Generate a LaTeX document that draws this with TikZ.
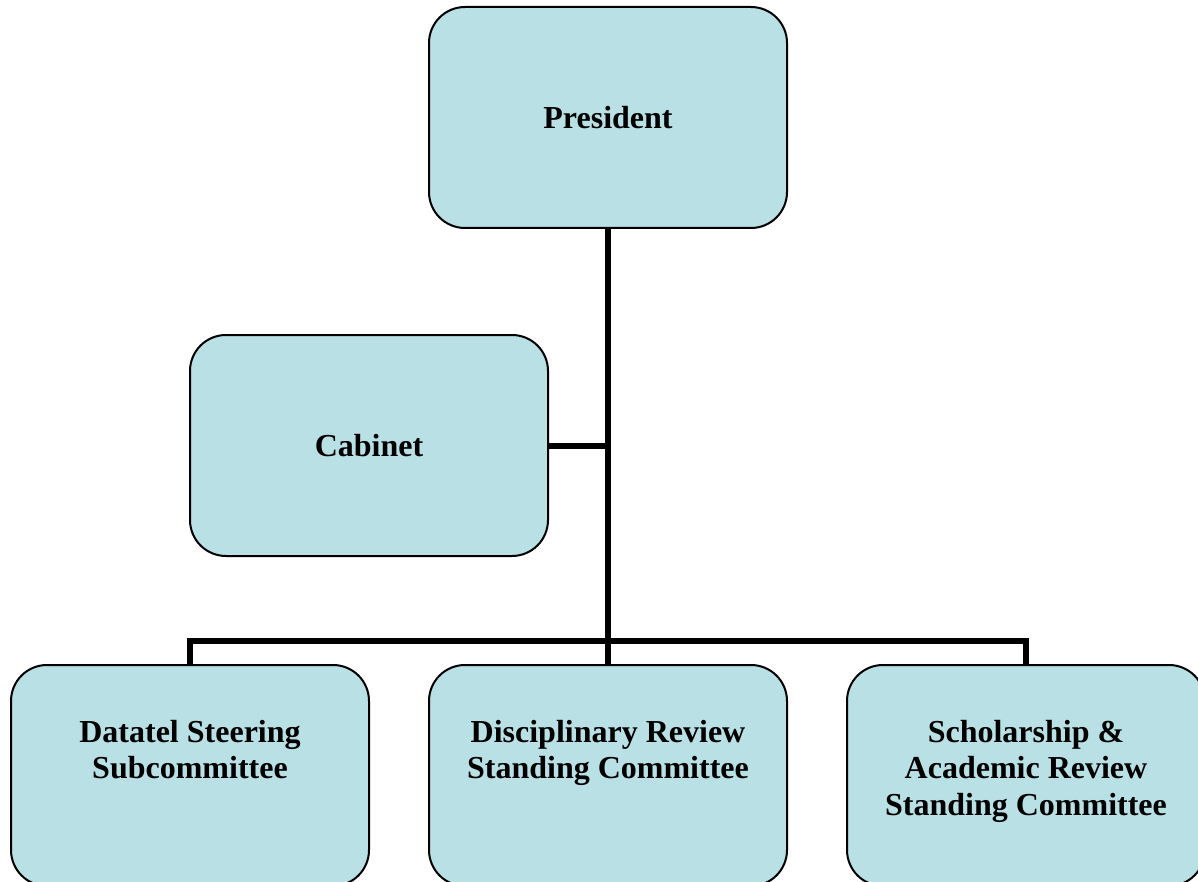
\documentclass[tikz,border=0pt]{standalone}
\usepackage{fontspec}
\setmainfont{Liberation Serif}
\definecolor{boxblue}{RGB}{185,224,228}
\newcommand{\boxfont}{\fontsize{32}{36.5}\selectfont\bfseries}
\tikzset{
    box/.style={draw=black, line width=2pt, fill=boxblue, rounded corners=36pt,
        minimum width=358pt, minimum height=221pt, inner sep=0pt,
        font=\boxfont, align=center},
    toptext/.style={label={[anchor=north, yshift=-56pt, inner sep=0pt,
        font=\boxfont, align=center]north:{#1}}},
    lien/.style={line width=6pt},
}

\begin{document}
\begin{tikzpicture}[x=1pt,y=-1pt]
    % cadre
    \useasboundingbox (0,0) rectangle (1198,882);
    \clip (0,0) rectangle (1198,882);

    % boites
    \node[box] (pres) at (608,117.5) {President};
    \node[box] (cab) at (369,445.5) {Cabinet};
    \node[box, toptext={Datatel Steering\\Subcommittee}] (data) at (190,775.5) {};
    \node[box, toptext={Disciplinary Review\\Standing Committee}] (disc) at (608,775.5) {};
    \node[box, toptext={Scholarship \&\\Academic Review\\Standing Committee}] (schol) at (1026,775.5) {};

    % liens
    \coordinate (bus) at (608,641);
    \draw[lien] (pres.south) -- (disc.north);
    \draw[lien] (cab.east) -- (cab.east -| pres.south);
    \draw[lien] (data.north) -- (data.north |- bus) -- (schol.north |- bus) -- (schol.north);
\end{tikzpicture}
\end{document}
